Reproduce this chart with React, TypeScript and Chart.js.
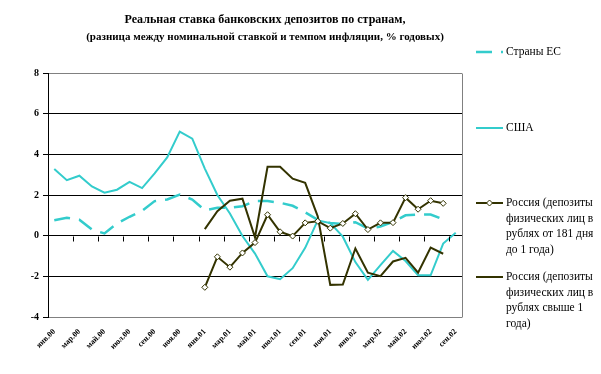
import React, { useEffect, useRef } from 'react';
import { Chart, registerables } from 'chart.js';

Chart.register(...registerables);

const months = ['янв', 'фев', 'мар', 'апр', 'май', 'июн', 'июл', 'авг', 'сен', 'окт', 'ноя', 'дек'];
const years = ['00', '01', '02'];
const categories: string[] = [];
for (const y of years) for (const m of months) categories.push(m + '.' + y);
categories.length = 33; // янв.00 … сен.02

const titleLines = [
  'Реальная ставка банковских депозитов по странам,',
  '(разница между номинальной ставкой и темпом инфляции, % годовых)',
];

const euValues = [0.76, 0.88, 0.78, 0.3, 0.11, 0.6, 0.93, 1.22, 1.7, 1.78, 2.02, 1.78, 1.25, 1.37, 1.37, 1.45, 1.7, 1.7, 1.62, 1.47, 1.15, 0.78, 0.62, 0.58, 0.66, 0.35, 0.45, 0.68, 1.0, 1.04, 1.04, 0.8, null];
const usValues = [3.28, 2.73, 2.95, 2.42, 2.11, 2.26, 2.65, 2.34, 3.06, 3.85, 5.12, 4.77, 3.3, 2.0, 1.09, -0.02, -0.88, -2.0, -2.14, -1.6, -0.6, 0.75, 0.62, -0.05, -1.3, -2.17, -1.45, -0.75, -1.25, -1.95, -1.95, -0.39, 0.14];
const ru181Values = [null, null, null, null, null, null, null, null, null, null, null, null, -2.54, -1.04, -1.55, -0.85, -0.34, 1.03, 0.19, -0.02, 0.63, 0.71, 0.37, 0.6, 1.08, 0.3, 0.63, 0.64, 1.87, 1.3, 1.72, 1.59, null];
const ru1yValues = [null, null, null, null, null, null, null, null, null, null, null, null, 0.32, 1.2, 1.72, 1.82, -0.08, 3.39, 3.39, 2.8, 2.6, 0.95, -2.42, -2.4, -0.63, -1.82, -1.99, -1.27, -1.09, -1.82, -0.59, -0.89, null];

const seriesNames = [
  ['Страны ЕС'],
  ['США'],
  ['Россия (депозиты', 'физических лиц в', 'рублях от 181 дня', 'до 1 года)'],
  ['Россия (депозиты', 'физических лиц в', 'рублях свыше 1', 'года)'],
];

const CYAN = '#33CCCC';
const OLIVE = '#333300';
const SERIF = '"Liberation Serif", "Times New Roman", serif';

const decorPlugin = {
  id: 'decor',
  afterDatasetsDraw(chart: any) {
    const ctx = chart.ctx;
    const area = chart.chartArea;
    const y = chart.scales.y;
    ctx.save();
    // right border
    ctx.strokeStyle = '#808080';
    ctx.lineWidth = 1;
    ctx.beginPath();
    const rx = Math.round(area.right) + 0.5;
    ctx.moveTo(rx, Math.round(area.top) + 0.5);
    ctx.lineTo(rx, Math.round(area.bottom) + 0.5);
    ctx.stroke();
    // ticks on zero line
    const y0 = Math.round(y.getPixelForValue(0)) + 0.5;
    const n = categories.length;
    const w = (area.right - area.left) / n;
    ctx.strokeStyle = '#000';
    ctx.beginPath();
    for (let i = 2; i < n; i += 2) {
      const x = Math.round(area.left + i * w) + 0.5;
      ctx.moveTo(x, y0);
      ctx.lineTo(x, y0 + 5);
    }
    ctx.stroke();
    ctx.restore();
  },
  afterDraw(chart: any) {
    const ctx = chart.ctx;
    ctx.save();
    // title
    ctx.fillStyle = '#000';
    ctx.textAlign = 'center';
    ctx.textBaseline = 'middle';
    ctx.font = 'bold 12px ' + SERIF;
    ctx.fillText(titleLines[0], 265, 20);
    ctx.font = 'bold 11px ' + SERIF;
    ctx.fillText(titleLines[1], 265, 37);

    // legend
    const lx0 = 476, lx1 = 503, tx = 506;
    const ys = [52, 128, 203, 277];
    const lh = 15.5;
    seriesNames.forEach((lines, i) => {
      const yy = ys[i];
      ctx.save();
      ctx.beginPath();
      ctx.strokeStyle = i < 2 ? CYAN : OLIVE;
      ctx.lineWidth = i === 0 ? 2.5 : 2;
      if (i === 0) ctx.setLineDash([16, 9]);
      ctx.moveTo(lx0, yy);
      ctx.lineTo(lx1, yy);
      ctx.stroke();
      ctx.restore();
      if (i === 2) {
        const cx = (lx0 + lx1) / 2;
        ctx.save();
        ctx.beginPath();
        ctx.moveTo(cx, yy - 3);
        ctx.lineTo(cx + 3, yy);
        ctx.lineTo(cx, yy + 3);
        ctx.lineTo(cx - 3, yy);
        ctx.closePath();
        ctx.fillStyle = '#fff';
        ctx.fill();
        ctx.strokeStyle = OLIVE;
        ctx.lineWidth = 1;
        ctx.stroke();
        ctx.restore();
      }
      ctx.fillStyle = '#000';
      ctx.font = '11.5px ' + SERIF;
      ctx.textAlign = 'left';
      ctx.textBaseline = 'middle';
      lines.forEach((t, k) => ctx.fillText(t, tx, yy + k * lh));
    });
    ctx.restore();
  },
};

export default function App() {
  const ref = useRef<HTMLCanvasElement | null>(null);
  useEffect(() => {
    if (!ref.current) return;
    const chart = new Chart(ref.current, {
      type: 'line',
      data: {
        labels: categories,
        datasets: [
          {
            label: 'Страны ЕС',
            data: euValues,
            borderColor: CYAN,
            borderWidth: 2.5,
            borderDash: [16, 9],
            pointRadius: 0,
            tension: 0,
            order: 4,
          },
          {
            label: 'США',
            data: usValues,
            borderColor: CYAN,
            borderWidth: 2,
            pointRadius: 0,
            tension: 0,
            order: 3,
          },
          {
            label: 'Россия 181',
            data: ru181Values,
            borderColor: OLIVE,
            borderWidth: 2,
            pointRadius: 3,
            pointStyle: 'rectRot',
            pointBackgroundColor: '#fff',
            pointBorderColor: OLIVE,
            pointBorderWidth: 1,
            tension: 0,
            order: 1,
          },
          {
            label: 'Россия 1',
            data: ru1yValues,
            borderColor: OLIVE,
            borderWidth: 2,
            pointRadius: 0,
            tension: 0,
            order: 2,
          },
        ],
      },
      options: {
        animation: false,
        responsive: false,
        layout: { padding: { top: 73, right: 139, left: 8, bottom: 0 } },
        plugins: { legend: { display: false }, title: { display: false }, tooltip: { enabled: false } },
        scales: {
          x: {
            offset: true,
            grid: { display: false, drawTicks: false },
            border: { display: false },
            ticks: {
              autoSkip: false,
              minRotation: 45,
              maxRotation: 45,
              padding: 10,
              color: '#000',
              font: { family: SERIF, size: 8, weight: 'bold' },
              callback: (_v: any, i: number) => (i % 2 === 0 ? categories[i] : ''),
            },
            afterFit: (s: any) => { s.height = 57; },
          },
          y: {
            min: -4,
            max: 8,
            ticks: {
              stepSize: 2,
              padding: 4,
              color: '#000',
              font: { family: SERIF, size: 10, weight: 'bold' },
            },
            grid: {
              color: (c: any) => (c.tick && (c.tick.value === 8 || c.tick.value === -4) ? '#808080' : '#000000'),
              tickColor: '#000',
              tickLength: 5,
              lineWidth: 1,
            },
            border: { color: '#000', width: 1 },
            afterFit: (s: any) => { s.width = 40; },
          },
        },
      },
      plugins: [decorPlugin],
    } as any);
    return () => chart.destroy();
  }, []);
  return (
    <div style={{ width: 601, height: 374, margin: -8 }}>
      <canvas ref={ref} width={601} height={374} style={{ display: 'block' }} />
    </div>
  );
}
